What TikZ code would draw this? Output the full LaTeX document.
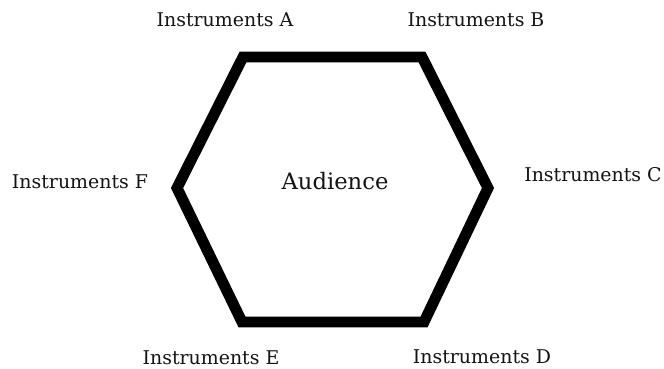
\documentclass[tikz,border=0pt]{standalone}
\usepackage{fontspec}
\setmainfont{DejaVu Serif}
\usepackage{tikz}
\usetikzlibrary{calc,positioning}
\usepackage{xcolor}
\definecolor{hexblack}{RGB}{0,0,0}
\definecolor{lblgray}{RGB}{20,20,20}

\begin{document}
\begin{tikzpicture}[x=0.75pt,y=-0.75pt,
    instr/.style={anchor=base,inner sep=0pt,text=lblgray,font=\fontsize{14.2}{16}\selectfont},
    hall/.style={draw=hexblack,line width=8.2pt,line join=miter}]
  \useasboundingbox (0,0) rectangle (664,368);
  % corners of the hall
  \coordinate (TL) at (243,57);
  \coordinate (TR) at (422,57);
  \coordinate (Rt) at (488,188);
  \coordinate (BR) at (424,322);
  \coordinate (BL) at (242,322);
  \coordinate (Lt) at (177,188);
  \draw[hall] (TL)--(TR)--(Rt)--(BR)--(BL)--(Lt)--cycle;
  % audience in the middle
  \node[instr,font=\fontsize{17}{19}\selectfont] (aud) at (335,189) {Audience};
  % instruments round the hall
  \node[instr] (insA) at (225,26) {Instruments A};
  \node[instr] (insB) at (476,26) {Instruments B};
  \node[instr] (insC) at (593,181) {Instruments C};
  \node[instr] (insD) at (482,363) {Instruments D};
  \node[instr] (insE) at (211,364) {Instruments E};
  \node[instr] (insF) at (80,188) {Instruments F};
\end{tikzpicture}
\end{document}
